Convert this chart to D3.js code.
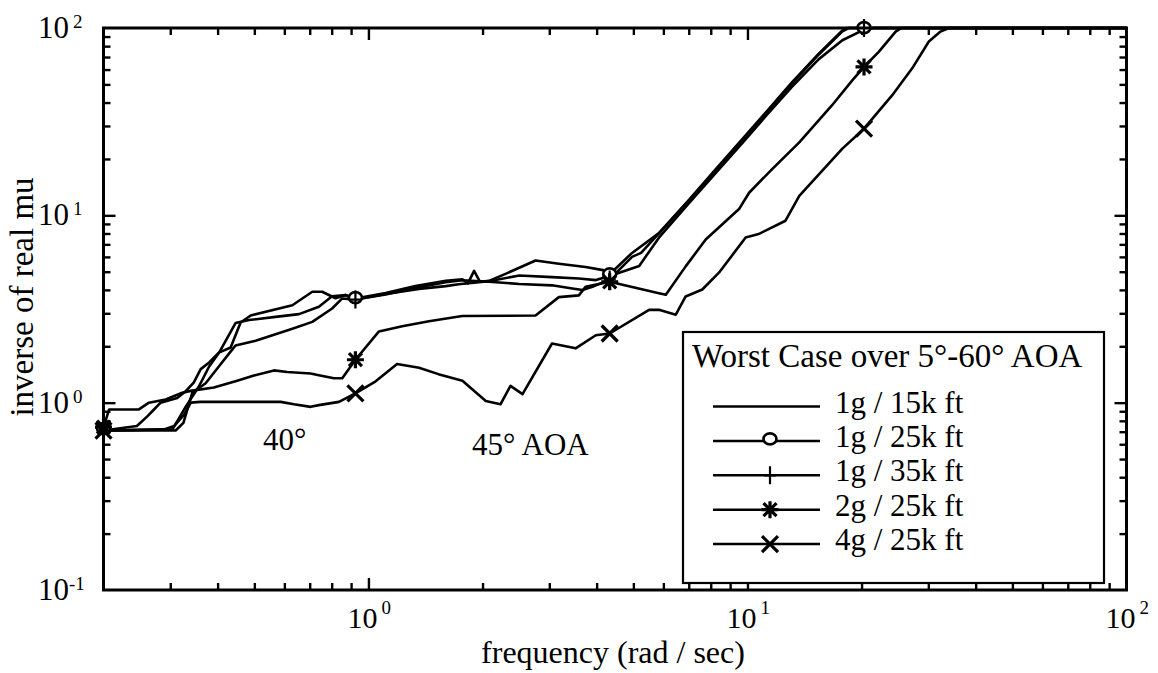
<!DOCTYPE html>
<html>
<head>
<meta charset="utf-8">
<script src="https://cdn.jsdelivr.net/npm/d3@7"></script>
<style>
  html, body { margin: 0; padding: 0; background: #fff; }
  svg { display: block; }
  text { font-family: "Liberation Serif", "Times New Roman", serif; fill: #000; }
</style>
</head>
<body>
<svg id="chart" width="1158" height="673"></svg>
<script>
// Worst-case inverse of real mu versus frequency, one curve per flight condition.
// Each entry is [frequency (rad/sec), inverse of real mu].
const s1g15k = [
  [0.2, 0.71], [0.245, 0.75], [0.261, 0.845], [0.269, 0.90], [0.283, 1.0], [0.313, 1.06],
  [0.33, 1.155], [0.346, 1.28], [0.361, 1.51], [0.38, 1.64], [0.403, 1.85], [0.433, 1.97],
  [0.46, 2.68], [0.489, 2.92], [0.63, 3.31], [0.711, 3.91], [0.755, 3.91], [0.819, 3.61],
  [0.87, 3.76], [0.924, 3.6], [1.11, 3.85], [1.33, 4.19], [1.6, 4.47], [1.77, 4.56],
  [1.83, 4.33], [1.9, 5.05], [1.97, 4.42], [2.08, 4.47], [2.3, 4.87], [2.76, 5.74],
  [3.18, 5.52], [3.74, 5.30], [4.16, 5.10], [4.33, 4.85], [4.96, 6.3], [5.84, 8.04],
  [7.01, 12.1], [8.24, 17.6], [9.69, 25.5], [11.17, 35.4], [13.1, 51.3], [15.4, 72.8],
  [17.8, 97], [18.3, 100], [100, 100]
];
const s1g25k = [
  [0.2, 0.71], [0.304, 0.72], [0.33, 0.955], [0.357, 1.22], [0.38, 1.56], [0.403, 1.84],
  [0.446, 2.66], [0.484, 2.76], [0.569, 2.87], [0.656, 2.97], [0.74, 3.25], [0.802, 3.70],
  [0.87, 3.75], [0.924, 3.55], [1.11, 3.80], [1.36, 4.05], [1.6, 4.19], [1.73, 4.29],
  [2.08, 4.45], [2.5, 4.77], [3.05, 4.68], [3.59, 4.6], [3.98, 4.51], [4.33, 4.75],
  [5.18, 5.37], [5.84, 7.6], [7.01, 11.6], [8.24, 16.8], [9.69, 24.3], [11.17, 33.8],
  [13.1, 48.5], [15.4, 68], [17.8, 86], [20.3, 98], [21.5, 100], [100, 100]
];
const s1g35k = [
  [0.2, 0.71], [0.31, 0.71], [0.325, 0.78], [0.343, 1.13], [0.372, 1.27], [0.403, 1.56],
  [0.437, 1.92], [0.446, 2.02], [0.504, 2.14], [0.63, 2.48], [0.711, 2.70], [0.802, 3.18],
  [0.853, 3.6], [0.924, 3.55], [1.11, 3.78], [1.33, 4.1], [1.6, 4.4], [1.77, 4.5],
  [2.08, 4.42], [2.5, 4.30], [3.05, 4.23], [3.45, 4.07], [3.67, 3.99], [3.9, 4.15],
  [4.33, 4.55], [4.96, 6.0], [5.24, 6.3], [5.84, 8.0], [7.01, 12.0], [8.24, 17.4],
  [9.69, 25.2], [11.17, 35], [13.1, 50.5], [15.4, 72], [17.8, 96], [18.5, 100],
  [20.3, 100], [100, 100]
];
const s2g25k = [
  [0.2, 0.74], [0.207, 0.92], [0.248, 0.92], [0.2635, 1.0], [0.2917, 1.04], [0.3227, 1.13],
  [0.3396, 1.156], [0.391, 1.205], [0.4506, 1.31], [0.4988, 1.395], [0.5633, 1.487],
  [0.6106, 1.458], [0.7037, 1.43], [0.74, 1.40], [0.811, 1.35], [0.853, 1.35], [0.924, 1.695],
  [1.066, 2.40], [1.228, 2.56], [1.444, 2.72], [1.768, 2.90], [2.76, 2.92], [3.18, 3.66],
  [3.59, 3.74], [3.74, 4.15], [4.33, 4.42], [5.84, 3.84], [6.09, 3.77], [6.87, 5.34],
  [7.76, 7.43], [9.5, 10.8], [10.1, 13.2], [11.6, 17.6], [13.7, 24.5], [16.7, 38.6],
  [18.9, 52.5], [20.3, 62], [22.2, 74.6], [24.6, 95.6], [25.5, 100], [100, 100]
];
const s4g25k = [
  [0.2, 0.71], [0.289, 0.72], [0.307, 0.75], [0.326, 0.86], [0.34, 1.0], [0.36, 1.01],
  [0.587, 1.01], [0.636, 0.98], [0.704, 0.95], [0.74, 0.97], [0.836, 1.01], [0.924, 1.12],
  [1.045, 1.30], [1.19, 1.61], [1.36, 1.535], [1.53, 1.42], [1.77, 1.31], [2.04, 1.02],
  [2.23, 0.98], [2.37, 1.23], [2.55, 1.11], [3.05, 2.07], [3.52, 1.95], [3.98, 2.29],
  [4.33, 2.34], [5.5, 3.13], [5.84, 3.13], [6.47, 2.95], [6.87, 3.69], [7.6, 4.02],
  [8.41, 4.94], [9.89, 7.61], [10.7, 7.94], [12.6, 9.36], [13.7, 12.7], [17.8, 22.7],
  [20.3, 29.0], [24.1, 43.8], [27.2, 60.9], [30.1, 84.7], [32.3, 95.7], [34, 100], [100, 100]
];

// Frequencies at which the curve symbols are plotted
const markerFreqs = [0.2, 0.924, 4.33, 20.3];

const seriesNames = ["1g / 15k ft", "1g / 25k ft", "1g / 35k ft", "2g / 25k ft", "4g / 25k ft"];
const seriesData = [s1g15k, s1g25k, s1g35k, s2g25k, s4g25k];
const seriesSymbols = ["none", "circle", "plus", "star", "cross"];

const legendTitle = "Worst Case over 5°-60° AOA";
const xTickExps = [0, 1, 2];
const yTickExps = [-1, 0, 1, 2];
const xTitle = "frequency (rad / sec)";
const yTitle = "inverse of real mu";
// Text notes placed at (frequency, value) of their baseline start
const notes = [
  { text: "40°", f: 0.527, v: 0.559 },
  { text: "45° AOA", f: 1.877, v: 0.526 }
];

// ---- layout ----
const svg = d3.select("#chart");
const L = 103.5, R = 1126.5, T = 28, B = 590;
const x = d3.scaleLog().domain([0.2, 100]).range([L, R]);
const y = d3.scaleLog().domain([0.1, 100]).range([B, T]);

function logTicks(dom, major) {
  const out = [];
  for (let e = -2; e <= 3; e++) {
    const ms = major ? [1] : [2, 3, 4, 5, 6, 7, 8, 9];
    for (const m of ms) {
      const v = m * Math.pow(10, e);
      if (v > dom[0] * 1.0001 && v < dom[1] * 0.9999) out.push(v);
    }
  }
  return out;
}

// Inward ticks on all four sides
function addTicks(axisFn, scale, transform, values, size) {
  const g = svg.append("g")
    .attr("transform", transform)
    .call(axisFn(scale).tickValues(values).tickSize(-size).tickFormat(""));
  g.select(".domain").remove();
  g.selectAll(".tick line").attr("stroke", "#000").attr("stroke-width", 2.4);
}
const xMaj = logTicks(x.domain(), true), xMin = logTicks(x.domain(), false);
const yMaj = logTicks(y.domain(), true), yMin = logTicks(y.domain(), false);
addTicks(d3.axisBottom, x, `translate(0,${B})`, xMaj, 12);
addTicks(d3.axisBottom, x, `translate(0,${B})`, xMin, 7);
addTicks(d3.axisTop, x, `translate(0,${T})`, xMaj, 12);
addTicks(d3.axisTop, x, `translate(0,${T})`, xMin, 7);
addTicks(d3.axisLeft, y, `translate(${L},0)`, yMaj, 12);
addTicks(d3.axisLeft, y, `translate(${L},0)`, yMin, 7);
addTicks(d3.axisRight, y, `translate(${R},0)`, yMaj, 12);
addTicks(d3.axisRight, y, `translate(${R},0)`, yMin, 7);

// ---- curves ----
const line = d3.line().x(d => x(d[0])).y(d => y(d[1]));
const curves = svg.append("g");
seriesData.forEach(s => {
  curves.append("path")
    .attr("d", line(s))
    .attr("fill", "none")
    .attr("stroke", "#000")
    .attr("stroke-width", 2.6)
    .attr("stroke-linejoin", "round");
});

function drawSymbol(g, kind, cx, cy) {
  const p = d3.path();
  if (kind === "circle") {
    g.append("ellipse").attr("cx", cx).attr("cy", cy - 2).attr("rx", 6.5).attr("ry", 5.5)
      .attr("fill", "#fff").attr("stroke", "#000").attr("stroke-width", 2.6);
    return;
  }
  if (kind === "plus") {
    p.moveTo(cx, cy - 9); p.lineTo(cx, cy + 9);
    p.moveTo(cx - 6, cy); p.lineTo(cx + 6, cy);
  } else if (kind === "cross") {
    const r = 8;
    p.moveTo(cx - r, cy - r); p.lineTo(cx + r, cy + r);
    p.moveTo(cx - r, cy + r); p.lineTo(cx + r, cy - r);
  } else if (kind === "star") {
    const r = 8.5, q = 6.5;
    p.moveTo(cx, cy - r); p.lineTo(cx, cy + r);
    p.moveTo(cx - r, cy); p.lineTo(cx + r, cy);
    p.moveTo(cx - q, cy - q); p.lineTo(cx + q, cy + q);
    p.moveTo(cx - q, cy + q); p.lineTo(cx + q, cy - q);
  } else return;
  g.append("path").attr("d", p.toString()).attr("fill", "none")
    .attr("stroke", "#000").attr("stroke-width", kind === "plus" ? 2.2 : 3.2)
    .attr("stroke-linecap", "butt");
}

const symG = svg.append("g");
seriesData.forEach((s, i) => {
  if (seriesSymbols[i] === "none") return;
  s.filter(d => markerFreqs.includes(d[0]))
    .forEach(d => drawSymbol(symG, seriesSymbols[i], x(d[0]), y(d[1])));
});

// ---- frame ----
svg.append("rect").attr("x", L).attr("y", T).attr("width", R - L).attr("height", B - T)
  .attr("fill", "none").attr("stroke", "#000").attr("stroke-width", 3);

// ---- tick labels ----
xTickExps.forEach(e => {
  const px = x(Math.pow(10, e));
  svg.append("text").attr("x", px - 6).attr("y", B + 38)
    .attr("text-anchor", "middle").attr("font-size", 30).text("10");
  svg.append("text").attr("x", px + 13).attr("y", B + 24)
    .attr("font-size", 19).text(String(e));
});
yTickExps.forEach(e => {
  const py = y(Math.pow(10, e));
  svg.append("text").attr("x", 69).attr("y", py + 10)
    .attr("text-anchor", "end").attr("font-size", 31).text("10");
  svg.append("text").attr("x", e < 0 ? 69 : 73).attr("y", py)
    .attr("font-size", 19).text(e < 0 ? "-" + Math.abs(e) : String(e));
});

// ---- axis titles ----
svg.append("text").attr("x", 613).attr("y", 663).attr("text-anchor", "middle")
  .attr("font-size", 32).text(xTitle);
svg.append("text").attr("transform", "translate(33,297) rotate(-90)")
  .attr("text-anchor", "middle").attr("font-size", 33).text(yTitle);

// ---- annotations ----
notes.forEach(n => {
  svg.append("text").attr("x", x(n.f)).attr("y", y(n.v)).attr("font-size", 31).text(n.text);
});

// ---- legend ----
const lg = svg.append("g");
lg.append("rect").attr("x", 683).attr("y", 332).attr("width", 421).attr("height", 251)
  .attr("fill", "#fff").attr("stroke", "#000").attr("stroke-width", 2.2);
lg.append("text").attr("x", 692).attr("y", 367).attr("font-size", 33).text(legendTitle);
seriesNames.forEach((name, i) => {
  const base = 412.5 + i * 34.4;
  const ly = base - 6;
  lg.append("line").attr("x1", 713).attr("x2", 820).attr("y1", ly).attr("y2", ly)
    .attr("stroke", "#000").attr("stroke-width", 2.5);
  drawSymbol(lg, seriesSymbols[i], 770, ly);
  lg.append("text").attr("x", 835).attr("y", base).attr("font-size", 31).text(name);
});
</script>
</body>
</html>
